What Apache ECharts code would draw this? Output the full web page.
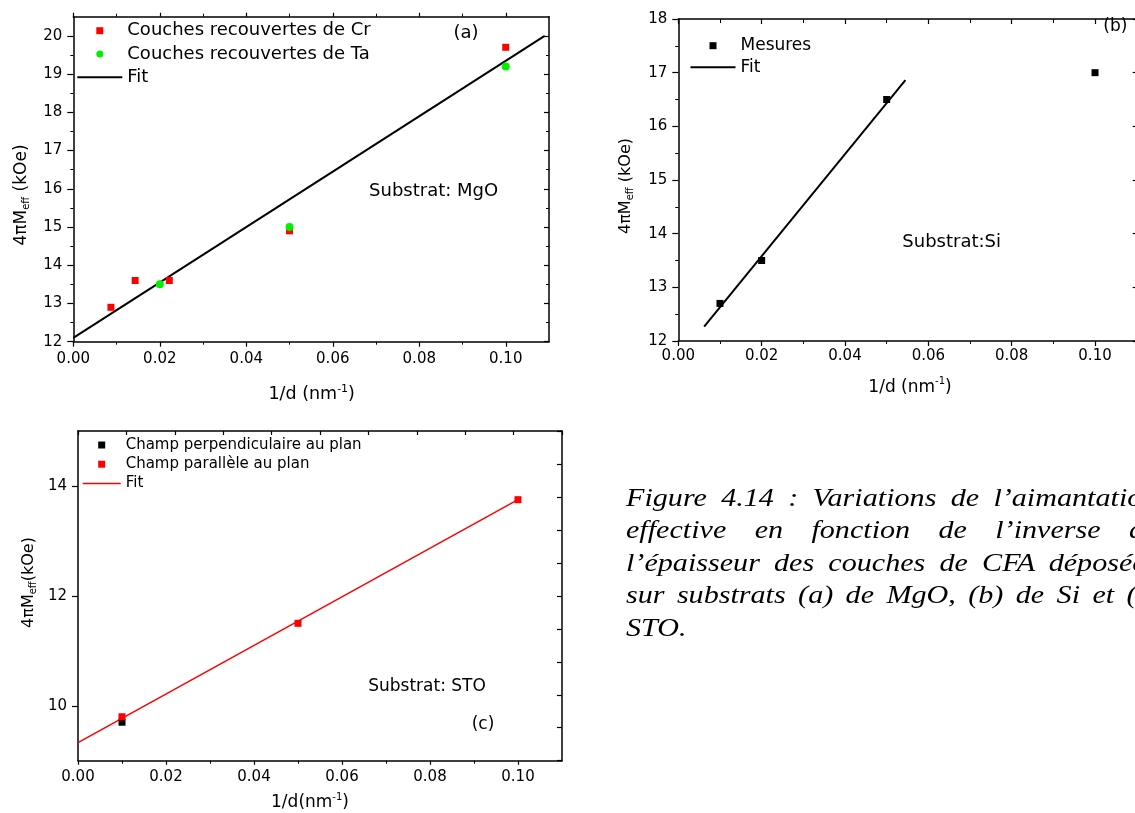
<!DOCTYPE html>
<html>
<head>
<meta charset="utf-8">
<script src="https://cdn.jsdelivr.net/npm/echarts@6/dist/echarts.min.js"></script>
<style>
html, body { margin:0; padding:0; width:1135px; height:813px; overflow:hidden; background:#fff; }
#chart { position:absolute; left:0; top:0; width:1135px; height:813px; }
#cap { position:absolute; left:626px; top:481.6px; transform:scaleX(1.205); transform-origin:0 0;
       font-family:'Liberation Serif', 'Times New Roman', serif; font-style:italic; font-size:25px; line-height:32.5px; color:#000; }
#cap .j { width:441px; text-align:justify; text-align-last:justify; }
#cap .w { width:477px; }
#cap .l { width:441px; text-align:left; }
</style>
</head>
<body>
<div id="chart"></div>
<div id="cap">
  <div class="j">Figure 4.14 : Variations de l’aimantation</div>
  <div class="j">effective en fonction de l’inverse de</div>
  <div class="j">l’épaisseur des couches de CFA déposées</div>
  <div class="j w">sur substrats (a) de MgO, (b) de Si et (c) de</div>
  <div class="l">STO.</div>
</div>
<script>
// ---------- data ----------
const xTicks = [0, 0.02, 0.04, 0.06, 0.08, 0.10];
const aYTicks = [12, 13, 14, 15, 16, 17, 18, 19, 20];
const bYTicks = [12, 13, 14, 15, 16, 17, 18];
const cYTicks = [10, 12, 14];

// (a) MgO
const aCrX = [0.0087, 0.0143, 0.0222, 0.05, 0.10];
const aCrY = [12.9, 13.6, 13.6, 14.9, 19.7];
const aTaX = [0.02, 0.05, 0.10];
const aTaY = [13.5, 15.0, 19.2];
const aFitX = [0, 0.109];
const aFitY = [12.1, 20.0];

// (b) Si
const bX = [0.01, 0.02, 0.05, 0.10];
const bY = [12.7, 13.5, 16.5, 17.0];
const bFitX = [0.0062, 0.0545];
const bFitY = [12.27, 16.86];

// (c) STO
const cPerpX = [0.01];
const cPerpY = [9.7];
const cParX = [0.01, 0.05, 0.10];
const cParY = [9.8, 11.5, 13.75];
const cFitX = [0, 0.10];
const cFitY = [9.33, 13.75];

// ---------- helpers ----------
const FONT = 'DejaVu Sans';
const zip = (xs, ys) => xs.map((x, i) => [x, ys[i]]);
const SQ = 'path://M0 0H10V10H0Z';
const LINE2 = 'path://M0 0H45V2H0Z';
const LINE15 = 'path://M0 0H38V1.5H0Z';
const BLK = '#000';

function baseAxis(o) {
  return Object.assign({
    type: 'value',
    splitLine: { show: false },
    axisLine: { show: true, onZero: false, lineStyle: { color: BLK, width: 1.5 } },
    axisLabel: { show: false },
    axisTick: { show: false },
    minorTick: { show: false }
  }, o);
}
function tick(len, inside, custom) {
  const t = { show: true, inside: inside, length: len, lineStyle: { color: BLK, width: 1.2 } };
  if (custom) t.customValues = custom;
  return t;
}
function minor(len) {
  return { show: true, splitNumber: 2, length: len, lineStyle: { color: BLK, width: 1 } };
}
function xLabels(margin) {
  return { show: true, customValues: xTicks, formatter: v => v.toFixed(2),
           color: BLK, fontFamily: FONT, fontSize: 15, margin: margin };
}
function yLabels(vals, margin) {
  return { show: true, customValues: vals, formatter: v => String(v),
           color: BLK, fontFamily: FONT, fontSize: 15, margin: margin };
}

const grids = [
  { left: 73.3, top: 16.7, width: 475.7, height: 325, outerBoundsMode: 'none', containLabel: false },
  { left: 678.3, top: 19, width: 458.4, height: 322, outerBoundsMode: 'none', containLabel: false },
  { left: 78, top: 431, width: 484, height: 329.7, outerBoundsMode: 'none', containLabel: false }
];

const xAxes = [
  // (a)
  baseAxis({ gridIndex: 0, position: 'bottom', min: 0, max: 0.11, interval: 0.02,
    axisTick: tick(5, false, xTicks), minorTick: minor(3), axisLabel: xLabels(10) }),
  baseAxis({ gridIndex: 0, position: 'top', min: 0, max: 0.11, interval: 0.02,
    axisTick: tick(4, false, xTicks), minorTick: minor(3) }),
  // (b)
  baseAxis({ gridIndex: 1, position: 'bottom', min: 0, max: 0.11, interval: 0.02,
    axisTick: tick(5, false, xTicks), minorTick: minor(3), axisLabel: xLabels(8) }),
  baseAxis({ gridIndex: 1, position: 'top', min: 0, max: 0.11, interval: 0.02,
    axisTick: tick(5, true, xTicks), minorTick: minor(4) }),
  // (c)
  baseAxis({ gridIndex: 2, position: 'bottom', min: 0, max: 0.11, interval: 0.02,
    axisTick: tick(4, false, xTicks), minorTick: minor(3), axisLabel: xLabels(9) }),
  baseAxis({ gridIndex: 2, position: 'top', min: 0, max: 0.11, interval: 0.011,
    axisTick: tick(4, true) })
];

const yAxes = [
  // (a)
  baseAxis({ gridIndex: 0, position: 'left', min: 12, max: 20.5, interval: 1,
    axisTick: tick(6, false, aYTicks), minorTick: minor(3), axisLabel: yLabels(aYTicks, 11) }),
  baseAxis({ gridIndex: 0, position: 'right', min: 12, max: 20.5, interval: 1,
    axisTick: tick(5, true, aYTicks), minorTick: minor(3) }),
  // (b)
  baseAxis({ gridIndex: 1, position: 'left', min: 12, max: 18, interval: 1,
    axisTick: tick(6, false, bYTicks), minorTick: minor(3), axisLabel: yLabels(bYTicks, 11) }),
  baseAxis({ gridIndex: 1, position: 'right', min: 12, max: 18, interval: 1,
    axisTick: tick(4, true, bYTicks) }),
  // (c)
  baseAxis({ gridIndex: 2, position: 'left', min: 9, max: 15, interval: 1,
    axisTick: tick(6, false, cYTicks), axisLabel: yLabels(cYTicks, 11) }),
  baseAxis({ gridIndex: 2, position: 'right', min: 9, max: 15, interval: 0.6,
    axisTick: tick(5, true) })
];

function scatter(name, xi, data, color, symbol, size) {
  return { type: 'scatter', name: name, xAxisIndex: xi, yAxisIndex: xi, data: data,
           symbol: symbol, symbolSize: size, itemStyle: { color: color, opacity: 1 },
           emphasis: { disabled: true }, z: 3 };
}
function fitLine(name, xi, data, color, width) {
  return { type: 'line', name: name, xAxisIndex: xi, yAxisIndex: xi, data: data,
           symbol: 'none', lineStyle: { color: color, width: width }, itemStyle: { color: color },
           emphasis: { disabled: true }, z: 2, animation: false };
}

const series = [
  scatter('Couches recouvertes de Cr', 0, zip(aCrX, aCrY), '#ff0000', 'rect', 7),
  scatter('Couches recouvertes de Ta', 0, zip(aTaX, aTaY), '#00f000', 'circle', 8),
  fitLine('Fit', 0, zip(aFitX, aFitY), BLK, 2),
  scatter('Mesures', 2, zip(bX, bY), BLK, 'rect', 7),
  fitLine('Fit ', 2, zip(bFitX, bFitY), BLK, 2),
  fitLine('Fit  ', 4, zip(cFitX, cFitY), '#ff0000', 1.5),
  scatter('Champ perpendiculaire au plan', 4, zip(cPerpX, cPerpY), BLK, 'rect', 7),
  scatter('Champ parallèle au plan', 4, zip(cParX, cParY), '#ff0000', 'rect', 7)
];

function legend(left, top, iw, ih, gap, fs, lh, data) {
  return { orient: 'vertical', left: left, top: top, padding: 0, itemWidth: iw, itemHeight: ih,
           itemGap: gap, selectedMode: false, data: data,
           textStyle: { color: BLK, fontFamily: FONT, fontSize: fs, lineHeight: lh } };
}
const legends = [
  legend(77.3, 20.7, 45, 7, 3.3, 18, 20, [
    { name: 'Couches recouvertes de Cr', icon: SQ },
    { name: 'Couches recouvertes de Ta', icon: 'circle' },
    { name: 'Fit', icon: LINE2 }]),
  legend(690.5, 36.2, 45, 7, 2.6, 17, 19, [
    { name: 'Mesures', icon: SQ },
    { name: 'Fit ', icon: LINE2 }]),
  legend(82.7, 436.5, 38, 7, 2.2, 15, 17, [
    { name: 'Champ perpendiculaire au plan', icon: SQ },
    { name: 'Champ parallèle au plan', icon: SQ },
    { name: 'Fit  ', icon: LINE15 }])
];

function txt(x, y, text, fs, rot) {
  return { type: 'text', x: x, y: y, rotation: rot || 0, silent: true, z: 10,
    style: { text: text, fill: BLK, fontFamily: FONT, fontSize: fs, align: 'center', verticalAlign: 'middle',
      rich: {
        n: { fill: BLK, fontFamily: FONT, fontSize: fs, lineHeight: fs + 4 },
        s: { fill: BLK, fontFamily: FONT, fontSize: Math.round(fs * 0.6), lineHeight: Math.round(fs * 0.6) + 2, verticalAlign: 'bottom' },
        p: { fill: BLK, fontFamily: FONT, fontSize: Math.round(fs * 0.6), lineHeight: Math.round(fs * 0.6) + 2, verticalAlign: 'top' }
      } } };
}
const R = Math.PI / 2;
const graphics = [
  txt(466, 33.3, '(a)', 18),
  txt(433.6, 191.7, 'Substrat: MgO', 18),
  txt(21.4, 195, '{n|4πM}{s|eff}{n| (kOe)}', 17, R),
  txt(311.7, 394, '{n|1/d (nm}{p|-1}{n|)}', 17.5),
  txt(1115.3, 26.7, '(b)', 17),
  txt(951.7, 242.3, 'Substrat:Si', 18),
  txt(625.6, 186, '{n|4πM}{s|eff}{n| (kOe)}', 16, R),
  txt(910, 387.3, '{n|1/d (nm}{p|-1}{n|)}', 17),
  txt(483, 725, '(c)', 17),
  txt(427, 686.7, 'Substrat: STO', 17),
  txt(28.7, 582.5, '{n|4πM}{s|eff}{n|(kOe)}', 16, R),
  txt(310, 802.7, '{n|1/d(nm}{p|-1}{n|)}', 17)
];

const chart = echarts.init(document.getElementById('chart'), null, { renderer: 'canvas', width: 1135, height: 813 });
chart.setOption({
  backgroundColor: '#fff',
  animation: false,
  grid: grids,
  xAxis: xAxes,
  yAxis: yAxes,
  legend: legends,
  series: series,
  graphic: graphics,
  tooltip: { show: false }
});
</script>
</body>
</html>
